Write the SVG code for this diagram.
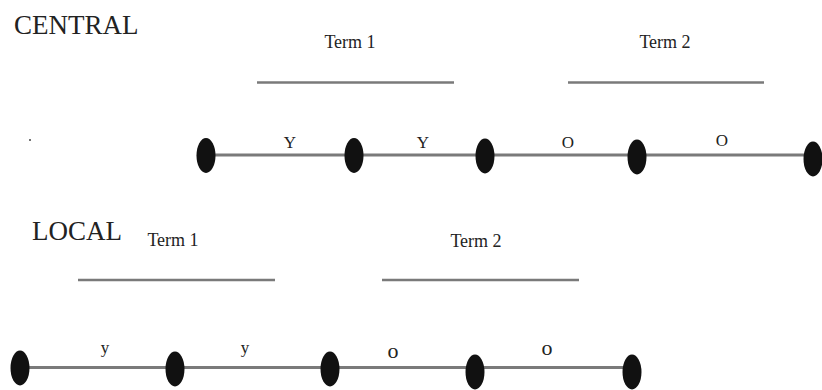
<svg xmlns="http://www.w3.org/2000/svg" width="822" height="390" viewBox="0 0 822 390">
<style>
text{font-family:"Liberation Serif","Times New Roman",serif;fill:#222}
.h{font-size:27px}
.t{font-size:18px;text-anchor:middle}
.l{font-size:17px;text-anchor:middle}
.lo{font-size:22px;text-anchor:middle}
.bar{stroke:#7a7a7a;stroke-width:2.5;fill:none}
.tl{stroke:#7a7a7a;stroke-width:3;fill:none}
.n{fill:#111}
</style>
<rect width="822" height="390" fill="#fff"/>
<g id="central">
<text class="h" x="14" y="34">CENTRAL</text>
<circle cx="30" cy="140" r="1" fill="#444"/>
<text class="t" x="350" y="48">Term 1</text>
<text class="t" x="665" y="48">Term 2</text>
</g>
<g id="local">
<text class="h" x="32" y="240">LOCAL</text>
<text class="t" x="173" y="246">Term 1</text>
<text class="t" x="476" y="247">Term 2</text>
</g>
<g id="connectors">
<line class="bar" x1="257" y1="82.5" x2="454" y2="82.5"/>
<line class="bar" x1="568" y1="82.5" x2="764" y2="82.5"/>
<line class="tl" x1="206" y1="155" x2="813" y2="155"/>
<line class="bar" x1="78" y1="280" x2="275" y2="280"/>
<line class="bar" x1="382" y1="280" x2="579" y2="280"/>
<line class="tl" x1="20" y1="367.5" x2="632" y2="367.5"/>
</g>
<g id="central-nodes">
<ellipse id="c1" class="n" cx="206" cy="155.5" rx="9.5" ry="17.5"/>
<ellipse id="c2" class="n" cx="354" cy="155.5" rx="9.5" ry="17.5"/>
<ellipse id="c3" class="n" cx="485" cy="156" rx="9.5" ry="17.5"/>
<ellipse id="c4" class="n" cx="637" cy="157" rx="9.5" ry="17.5"/>
<ellipse id="c5" class="n" cx="813" cy="159" rx="9.5" ry="17.5"/>
<text class="l" x="290" y="148">Y</text>
<text class="l" x="423" y="148">Y</text>
<text class="l" x="568" y="148">O</text>
<text class="l" x="722" y="146">O</text>
</g>
<g id="local-nodes">
<ellipse id="l1" class="n" cx="20" cy="368" rx="9.5" ry="17.5"/>
<ellipse id="l2" class="n" cx="175" cy="369" rx="9.5" ry="17.5"/>
<ellipse id="l3" class="n" cx="330" cy="369" rx="9.5" ry="17.5"/>
<ellipse id="l4" class="n" cx="475" cy="372" rx="9.5" ry="17.5"/>
<ellipse id="l5" class="n" cx="632" cy="372" rx="9.5" ry="17.5"/>
<text class="l" x="105" y="353">y</text>
<text class="l" x="245" y="353">y</text>
<text class="lo" x="393" y="358">o</text>
<text class="lo" x="547" y="355">o</text>
</g>
</svg>
